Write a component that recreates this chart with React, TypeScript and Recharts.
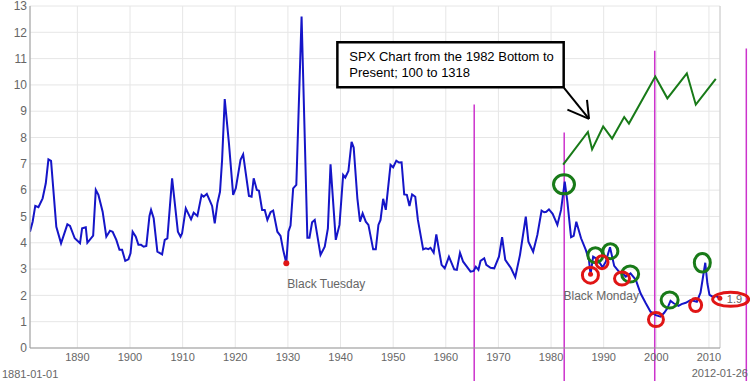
import { LineChart, Line, XAxis, YAxis, CartesianGrid, ReferenceLine, ReferenceDot, ReferenceArea } from "recharts"

const FONT = "'Liberation Sans', Arial, sans-serif"

// dividend yield (%)
const years = [
  1881.0, 1881.5, 1882.0, 1882.6, 1883.4, 1884.0, 1884.5, 1885.0, 1886.0, 1886.9,
  1888.1, 1888.6, 1889.5, 1890.5, 1890.9, 1891.6, 1891.9, 1893.0, 1893.5, 1894.0,
  1894.8, 1895.5, 1896.2, 1896.7, 1897.4, 1898.0, 1898.5, 1899.1, 1899.7, 1900.1,
  1900.5, 1901.1, 1901.6, 1902.1, 1902.6, 1903.1, 1903.7, 1904.0, 1904.5, 1905.2,
  1906.1, 1906.6, 1907.1, 1908.0, 1909.1, 1909.6, 1909.9, 1910.6, 1911.1, 1911.6,
  1912.1, 1912.8, 1913.6, 1914.0, 1914.6, 1915.1, 1915.6, 1916.1, 1916.6, 1917.1,
  1917.5, 1918.0, 1918.8, 1919.6, 1920.1, 1921.0, 1921.5, 1922.0, 1922.6, 1923.1,
  1923.5, 1924.1, 1924.5, 1925.1, 1925.6, 1926.1, 1926.7, 1927.2, 1928.0, 1928.6,
  1929.1, 1929.7, 1930.1, 1930.5, 1931.0, 1931.6, 1932.6, 1933.7, 1934.1, 1934.6,
  1935.1, 1936.2, 1937.0, 1937.6, 1938.1, 1939.1, 1939.8, 1940.5, 1940.9, 1941.5,
  1942.1, 1942.5, 1943.2, 1943.7, 1944.2, 1944.8, 1945.3, 1946.2, 1946.7, 1947.2,
  1947.6, 1948.1, 1948.6, 1949.5, 1950.0, 1950.6, 1951.1, 1951.6, 1952.1, 1952.6,
  1953.1, 1953.6, 1954.2, 1954.7, 1955.7, 1956.2, 1956.7, 1957.1, 1957.7, 1958.2,
  1958.7, 1959.2, 1959.8, 1960.6, 1961.6, 1962.1, 1962.7, 1963.3, 1964.0, 1964.7,
  1965.3, 1965.7, 1966.2, 1966.6, 1967.3, 1967.7, 1968.5, 1969.2, 1970.1, 1970.7,
  1971.3, 1972.4, 1973.2, 1974.1, 1975.2, 1975.7, 1976.6, 1977.4, 1978.2, 1978.7,
  1979.1, 1979.6, 1980.3, 1980.8, 1981.2, 1981.9, 1982.6, 1983.1, 1983.8, 1984.3,
  1984.8, 1985.7, 1986.6, 1987.2, 1987.5, 1988.0, 1988.8, 1989.8, 1990.4, 1991.2,
  1992.0, 1992.9, 1993.6, 1994.2, 1995.1, 1996.1, 1997.0, 1998.0, 1998.9, 1999.9,
  2000.8, 2001.5, 2002.1, 2002.7, 2003.3, 2004.2, 2004.8, 2005.6, 2006.5, 2007.7,
  2008.4, 2009.3, 2009.7, 2010.1, 2010.7, 2011.3, 2012.07,
]
const yields = [
  4.42, 4.8, 5.4, 5.35, 5.69, 6.26, 7.17, 7.11, 4.61, 3.98,
  4.7, 4.64, 4.17, 3.98, 4.55, 4.59, 4.0, 4.27, 6.01, 5.82,
  5.18, 4.23, 4.46, 4.42, 4.11, 3.73, 3.73, 3.31, 3.37, 3.6,
  4.42, 4.23, 3.92, 3.92, 3.85, 3.88, 5.02, 5.25, 4.93, 3.66,
  3.56, 4.11, 4.17, 6.45, 4.42, 4.23, 4.36, 5.31, 5.1, 4.89,
  5.14, 5.02, 5.82, 5.75, 5.86, 5.63, 5.4, 4.74, 5.5, 5.94,
  7.15, 9.46, 7.78, 5.82, 6.07, 7.15, 7.36, 6.64, 5.78, 5.75,
  6.45, 6.01, 5.98, 5.25, 5.25, 4.87, 5.16, 5.22, 4.42, 4.26,
  3.73, 3.22, 4.42, 4.65, 6.07, 6.2, 12.6, 4.19, 4.19, 4.78,
  4.87, 3.54, 3.85, 4.55, 6.98, 4.11, 4.68, 6.58, 6.48, 6.73,
  7.84, 7.62, 5.69, 4.8, 5.12, 4.8, 4.68, 3.75, 3.75, 4.68,
  4.87, 5.67, 5.25, 6.96, 6.87, 7.12, 7.05, 7.06, 5.84, 5.82,
  5.4, 5.84, 5.75, 4.87, 3.75, 3.79, 3.76, 3.81, 3.62, 4.32,
  3.73, 3.16, 3.03, 3.47, 2.99, 2.97, 3.62, 3.28, 3.09, 2.9,
  2.93, 3.09, 2.97, 3.31, 3.41, 3.16, 3.05, 3.03, 3.47, 4.21,
  3.35, 3.03, 2.69, 3.54, 4.99, 4.04, 3.66, 4.3, 5.22, 5.16,
  5.18, 5.27, 5.1, 4.87, 4.68, 5.25, 6.32, 5.56, 4.21, 4.26,
  4.8, 4.17, 3.73, 3.35, 2.8, 3.47, 3.37, 3.07, 3.28, 3.83,
  3.12, 2.9, 2.84, 2.71, 2.84, 2.59, 2.08, 1.7, 1.38, 1.25,
  1.19, 1.34, 1.51, 1.79, 1.7, 1.6, 1.67, 1.72, 1.82, 1.76,
  2.1, 3.24, 2.46, 2.02, 1.95, 1.98, 1.89,
]

// hand-drawn SPX overlay (1982 bottom to present), in the chart's units
const spxYears = [1982.3, 1987.0, 1987.8, 1989.9, 1991.6, 1993.9, 1994.8, 1999.8, 2002.1, 2005.8, 2007.5, 2011.3]
const spxLevels = [6.97, 8.21, 7.55, 8.42, 7.96, 8.78, 8.53, 10.32, 9.49, 10.44, 9.25, 10.23]

const xTicks = [1890, 1900, 1910, 1920, 1930, 1940, 1950, 1960, 1970, 1980, 1990, 2000, 2010]
const yTicks = [0, 1, 2, 3, 4, 5, 6, 7, 8, 9, 10, 11, 12, 13]

const yieldRows = years.map((year, i) => ({ year, yld: yields[i] }))
const spxRows = spxYears.map((year, i) => ({ year, spx: spxLevels[i] }))

// annotations
const markerYears = [1965.4, 1982.5, 1999.7, 2017.1]
const markerTops = [9.26, 8.19, 11.3, 11.38]

const greenRings = [
  { year: 1982.46, val: 6.22, rx: 10.5, ry: 9.5 },
  { year: 1988.42, val: 3.53, rx: 7.5, ry: 7.5 },
  { year: 1991.27, val: 3.68, rx: 7.5, ry: 7.5 },
  { year: 1995.03, val: 2.81, rx: 8.5, ry: 8 },
  { year: 2002.53, val: 1.82, rx: 8.5, ry: 8 },
  { year: 2008.74, val: 3.24, rx: 8, ry: 9.2 },
]
const redRings = [
  { year: 1987.48, val: 2.77, rx: 8, ry: 8 },
  { year: 1989.68, val: 3.26, rx: 6, ry: 6.5 },
  { year: 1993.48, val: 2.64, rx: 7.5, ry: 6.5 },
  { year: 1999.93, val: 1.08, rx: 7.5, ry: 7 },
  { year: 2007.47, val: 1.63, rx: 6, ry: 6.5 },
  { year: 2014.12, val: 1.85, rx: 18, ry: 7 },
]

const BLUE = "#1515c8"
const GREEN = "#187a18"
const RED = "#e01515"
const MAGENTA = "#cc33cc"
const GREYTXT = "#666"

function CalloutText(props: any) {
  const { x, y } = props.viewBox
  return (
    <text fill="#000" fontSize={13} fontFamily={FONT}>
      <tspan x={x + 12} y={y + 19}>SPX Chart from the 1982 Bottom to</tspan>
      <tspan x={x + 12} y={y + 35}>Present; 100 to 1318</tspan>
    </text>
  )
}

export default function App() {
  return (
    <div style={{ position: "absolute", left: 0, top: 0, width: 750, height: 384, background: "#fff", fontFamily: FONT }}>
      <LineChart width={750} height={384} margin={{ top: 6, right: 30, bottom: 0, left: 0 }}>
        <CartesianGrid stroke="#e6e6e6" />
        <XAxis
          type="number"
          dataKey="year"
          domain={[1881, 2012.1]}
          ticks={xTicks}
          allowDataOverflow
          height={36}
          tickLine={false}
          tickSize={0}
          tickMargin={5}
          stroke="#999"
          tick={{ fill: GREYTXT, fontSize: 11, fontFamily: FONT }}
        />
        <YAxis
          type="number"
          domain={[0, 13]}
          ticks={yTicks}
          interval={0}
          width={30}
          tickLine={false}
          tickSize={0}
          tickMargin={3}
          stroke="#999"
          tick={{ fill: GREYTXT, fontSize: 12, fontFamily: FONT }}
        />
        <ReferenceLine x={2012.1} stroke="#ccc" />

        {markerYears.map((yr, i) => (
          <ReferenceLine
            key={"m" + i}
            segment={[{ x: yr, y: markerTops[i] }, { x: yr, y: -1.25 }]}
            stroke={MAGENTA}
            strokeWidth={1.5}
            ifOverflow="visible"
          />
        ))}

        <ReferenceArea
          x1={1939.4}
          x2={1982.4}
          y1={9.91}
          y2={11.62}
          fill="#fff"
          fillOpacity={1}
          stroke="#000"
          strokeWidth={2.5}
          ifOverflow="visible"
          label={<CalloutText />}
        />
        <ReferenceLine segment={[{ x: 1982.46, y: 9.89 }, { x: 1987.21, y: 8.71 }]} stroke="#000" strokeWidth={2} ifOverflow="visible" />
        <ReferenceLine segment={[{ x: 1986.83, y: 9.43 }, { x: 1987.21, y: 8.71 }]} stroke="#000" strokeWidth={2} ifOverflow="visible" />
        <ReferenceLine segment={[{ x: 1983.11, y: 9.06 }, { x: 1987.21, y: 8.71 }]} stroke="#000" strokeWidth={2} ifOverflow="visible" />

        <Line
          data={spxRows}
          dataKey="spx"
          type="linear"
          stroke={GREEN}
          strokeWidth={2}
          dot={false}
          isAnimationActive={false}
        />
        <Line
          data={yieldRows}
          dataKey="yld"
          type="linear"
          stroke={BLUE}
          strokeWidth={2}
          dot={false}
          isAnimationActive={false}
        />

        <ReferenceDot
          x={1929.7}
          y={3.22}
          r={3}
          ifOverflow="visible"
          shape={(p: any) => (
            <g>
              <circle cx={p.cx} cy={p.cy} r={3} fill={RED} />
              <text x={p.cx + 1} y={p.cy + 25} fill={GREYTXT} fontSize={12} fontFamily={FONT}>Black Tuesday</text>
            </g>
          )}
        />
        <ReferenceDot
          x={1987.5}
          y={2.8}
          r={3}
          ifOverflow="visible"
          shape={(p: any) => (
            <g>
              <circle cx={p.cx} cy={p.cy} r={2.5} fill={RED} />
              <text x={p.cx - 27} y={p.cy + 26} fill={GREYTXT} fontSize={12} fontFamily={FONT}>Black Monday</text>
            </g>
          )}
        />
        <ReferenceDot
          x={2012.07}
          y={1.89}
          r={3}
          ifOverflow="visible"
          shape={(p: any) => (
            <g>
              <circle cx={p.cx} cy={p.cy} r={2.5} fill={RED} />
              <text x={p.cx + 7} y={p.cy + 4.5} fill={GREYTXT} fontSize={11} fontFamily={FONT}>1.9</text>
            </g>
          )}
        />

        {greenRings.map((g, i) => (
          <ReferenceDot
            key={"g" + i}
            x={g.year}
            y={g.val}
            r={g.rx}
            ifOverflow="visible"
            shape={(p: any) => <ellipse cx={p.cx} cy={p.cy} rx={g.rx} ry={g.ry} fill="none" stroke={GREEN} strokeWidth={3} />}
          />
        ))}
        {redRings.map((g, i) => (
          <ReferenceDot
            key={"r" + i}
            x={g.year}
            y={g.val}
            r={g.rx}
            ifOverflow="visible"
            shape={(p: any) => <ellipse cx={p.cx} cy={p.cy} rx={g.rx} ry={g.ry} fill="none" stroke={RED} strokeWidth={3} />}
          />
        ))}
      </LineChart>
      <div style={{ position: "absolute", left: 2, top: 368, fontSize: 11, lineHeight: "12px", color: GREYTXT }}>1881-01-01</div>
      <div style={{ position: "absolute", right: 2, top: 367, fontSize: 11, lineHeight: "12px", color: GREYTXT }}>2012-01-26</div>
    </div>
  )
}
